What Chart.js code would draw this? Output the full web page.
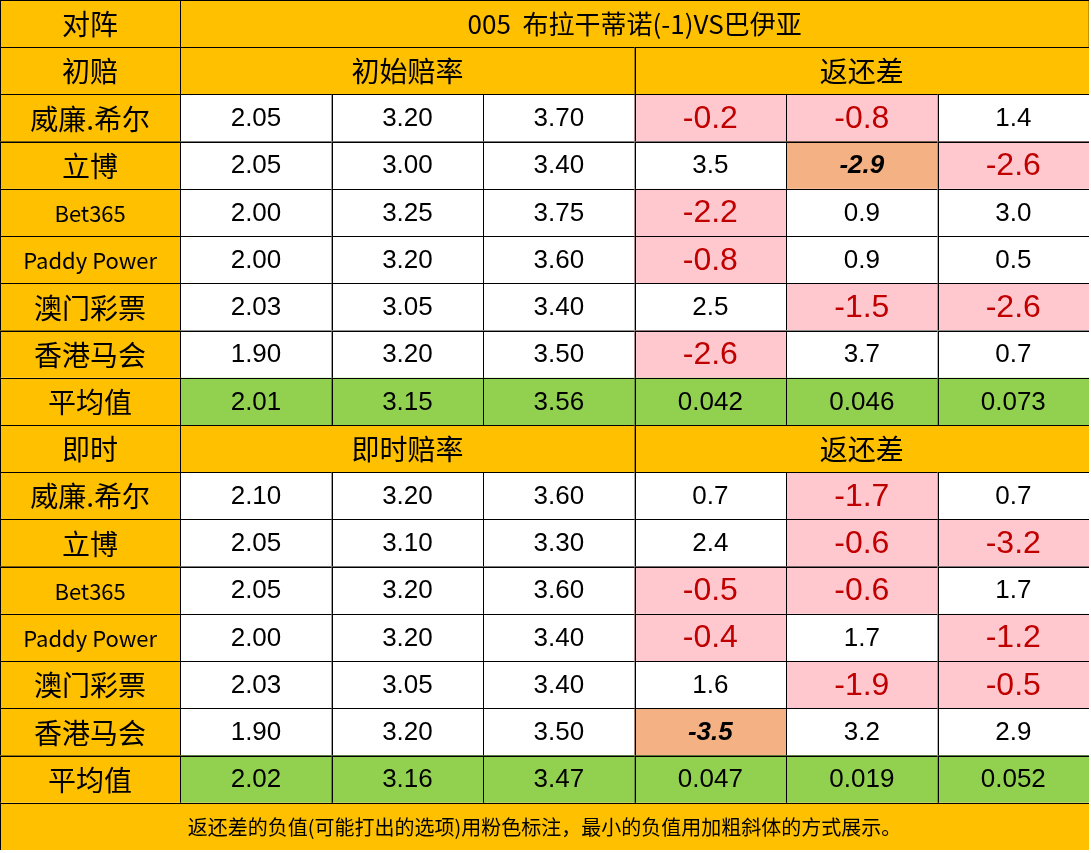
<!DOCTYPE html>
<html><head><meta charset="utf-8">
<script src="https://cdn.jsdelivr.net/npm/chart.js@4"></script>
<style>html,body{margin:0;padding:0;background:#fff}#w{position:absolute;left:0;top:0;width:1089px;height:850px}</style>
</head><body><div id="w"><canvas id="c"></canvas></div>
<script>
const title = "005  布拉干蒂诺(-1)VS巴伊亚";
const companies = ["威廉.希尔","立博","Bet365","Paddy Power","澳门彩票","香港马会"];
const initOdds = [["2.05","3.20","3.70"],["2.05","3.00","3.40"],["2.00","3.25","3.75"],["2.00","3.20","3.60"],["2.03","3.05","3.40"],["1.90","3.20","3.50"]];
const initDiff = [["-0.2","-0.8","1.4"],["3.5","-2.9","-2.6"],["-2.2","0.9","3.0"],["-0.8","0.9","0.5"],["2.5","-1.5","-2.6"],["-2.6","3.7","0.7"]];
const initAvg = ["2.01","3.15","3.56","0.042","0.046","0.073"];
const liveOdds = [["2.10","3.20","3.60"],["2.05","3.10","3.30"],["2.05","3.20","3.60"],["2.00","3.20","3.40"],["2.03","3.05","3.40"],["1.90","3.20","3.50"]];
const liveDiff = [["0.7","-1.7","0.7"],["2.4","-0.6","-3.2"],["-0.5","-0.6","1.7"],["-0.4","1.7","-1.2"],["1.6","-1.9","-0.5"],["-3.5","3.2","2.9"]];
const liveAvg = ["2.02","3.16","3.47","0.047","0.019","0.052"];
const footer = "返还差的负值(可能打出的选项)用粉色标注，最小的负值用加粗斜体的方式展示。";

const colEdges = [0,1.19,2.19,3.19,4.19,5.19,6.19,7.19];
const ORANGE="#FFC000", GREEN="#92D050", PINK="#FFC7CE", DRED="#C00000", MINC="#F4B183";
const CJK='"Noto Sans CJK SC","Noto Sans",sans-serif', NUM='"Liberation Sans",Arial,sans-serif';

// build cell list
const cells = [];
function cell(r,c0,c1,text,o){cells.push(Object.assign({r,c0,c1,text,bg:"#fff",color:"#000",font:"26px "+NUM},o||{}));}
function block(r0,head,oddsHead,odds,diff,avg){
  cell(r0,0,1,head,{bg:ORANGE,font:"28px "+CJK});
  cell(r0,1,4,oddsHead,{bg:ORANGE,font:"28px "+CJK});
  cell(r0,4,7,"返还差",{bg:ORANGE,font:"28px "+CJK});
  let mn=Infinity; diff.forEach(rw=>rw.forEach(v=>{mn=Math.min(mn,parseFloat(v));}));
  companies.forEach((n,i)=>{
    const r=r0+1+i, lat=/^[A-Za-z]/.test(n);
    cell(r,0,1,n,{bg:ORANGE,font:(lat?"22px ":"28px ")+CJK});
    odds[i].forEach((v,j)=>cell(r,1+j,2+j,v));
    diff[i].forEach((v,j)=>{
      const x=parseFloat(v);
      if(x===mn) cell(r,4+j,5+j,v,{bg:MINC,font:"italic bold 26px "+NUM});
      else if(x<0) cell(r,4+j,5+j,v,{bg:PINK,color:DRED,font:"32px "+NUM});
      else cell(r,4+j,5+j,v);
    });
  });
  cell(r0+7,0,1,"平均值",{bg:ORANGE,font:"28px "+CJK});
  avg.forEach((v,j)=>cell(r0+7,1+j,2+j,v,{bg:GREEN}));
}
cell(0,0,1,"对阵",{bg:ORANGE,font:"28px "+CJK});
cell(0,1,7,title,{bg:ORANGE,font:"26px "+CJK});
block(1,"初赔","初始赔率",initOdds,initDiff,initAvg);
block(9,"即时","即时赔率",liveOdds,liveDiff,liveAvg);
cell(17,0,7,footer,{bg:ORANGE,font:"20px "+CJK});

const tablePlugin={id:"table",afterDatasetsDraw(ch){
  const ctx=ch.ctx,xs=ch.scales.x,ys=ch.scales.y;
  ctx.save();
  cells.forEach(c=>{
    const x0=xs.getPixelForValue(colEdges[c.c0]),x1=xs.getPixelForValue(colEdges[c.c1]);
    const y0=ys.getPixelForValue(c.r),y1=ys.getPixelForValue(c.r+1);
    ctx.fillStyle=c.bg;ctx.fillRect(x0,y0,x1-x0,y1-y0);
    ctx.strokeStyle="#000";ctx.lineWidth=1;ctx.strokeRect(Math.round(x0)+0.5,Math.round(y0)+0.5,x1-x0,y1-y0);
    ctx.fillStyle=c.color;ctx.font=c.font;ctx.textAlign="center";ctx.textBaseline="middle";
    ctx.fillText(c.text,(x0+x1)/2,(y0+y1)/2+1);
  });
  ctx.restore();
}};

new Chart(document.getElementById("c"),{
  type:"scatter",
  data:{datasets:[{data:cells.map(c=>({x:(colEdges[c.c0]+colEdges[c.c1])/2,y:c.r+0.5})),pointRadius:0}]},
  options:{responsive:true,maintainAspectRatio:false,animation:false,
    layout:{padding:0},
    plugins:{legend:{display:false},tooltip:{enabled:false}},
    scales:{x:{type:"linear",min:0,max:7.19,display:false},
            y:{type:"linear",min:0,max:18,reverse:true,display:false}}},
  plugins:[tablePlugin]
});
</script></body></html>
